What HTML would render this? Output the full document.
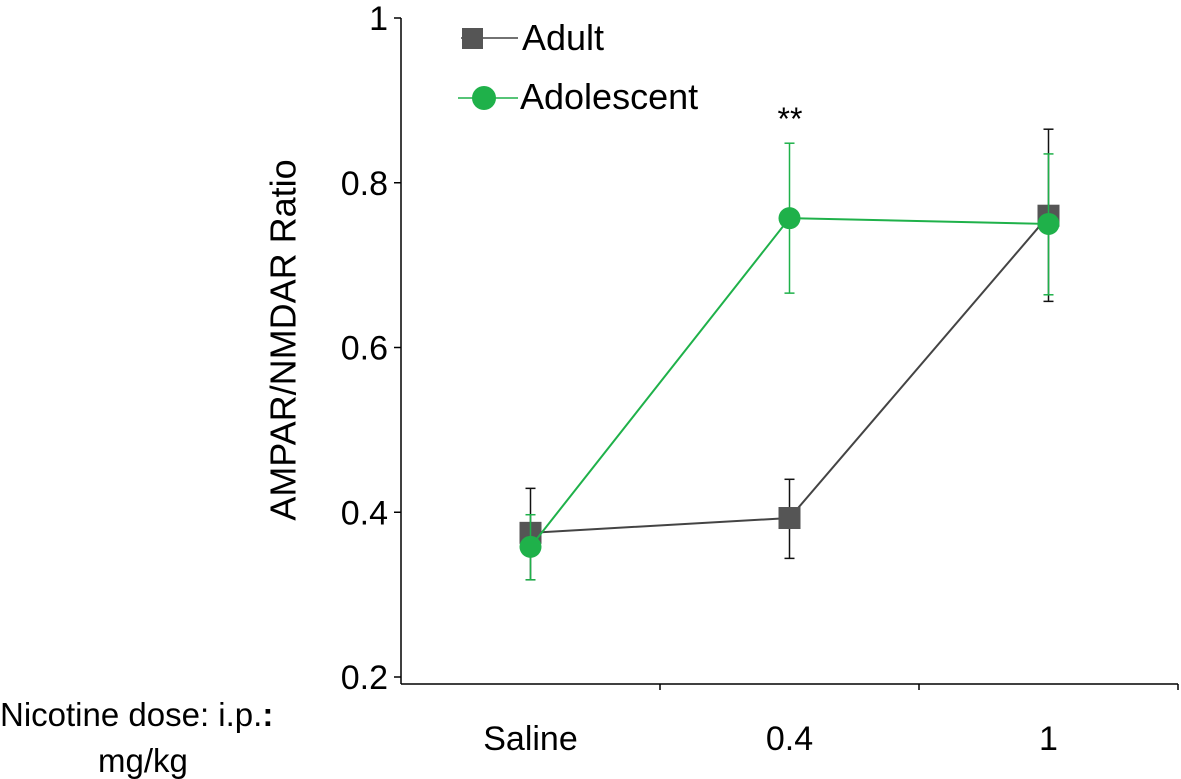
<!DOCTYPE html>
<html><head><meta charset="utf-8"><style>
body{margin:0;background:#fff;}
svg{display:block;font-family:"Liberation Sans",Arial,sans-serif;}
</style></head><body>
<svg id="chart" width="1181" height="779">
<text x="0" y="0" transform="translate(283,340) rotate(-90)" text-anchor="middle" font-size="36" dominant-baseline="central">AMPAR/NMDAR Ratio</text>
<text x="0" y="726" font-size="33">Nicotine dose: i.p.<tspan font-weight="bold">:</tspan></text>
<text x="98" y="772" font-size="33">mg/kg</text>
<g id="axes"></g>
<g id="marks"></g>
<g>
<line x1="461" y1="38" x2="518" y2="38" stroke="#444" stroke-width="1.5"/>
<rect x="462" y="28" width="21" height="21" fill="#555"/>
<text x="522" y="50" font-size="36">Adult</text>
<line x1="458" y1="98" x2="518" y2="98" stroke="#1fb14a" stroke-width="1.5"/>
<circle cx="484" cy="98" r="12" fill="#1fb14a"/>
<text x="520" y="109" font-size="36">Adolescent</text>
</g>
<text x="790" y="130" font-size="32" text-anchor="middle">**</text>
</svg>
<script>
const categories=["Saline","0.4","1"];
const adultVals=[0.375,0.393,0.760];
const adultHi=[0.429,0.440,0.865];
const adultLo=[0.318,0.344,0.656];
const adolVals=[0.358,0.757,0.750];
const adolHi=[0.397,0.848,0.835];
const adolLo=[0.318,0.666,0.664];
const yTicks=[0.2,0.4,0.6,0.8,1];
const yTickLabels=["0.2","0.4","0.6","0.8","1"];

const NS="http://www.w3.org/2000/svg";
const y0=677,yTop=18,xL=401,bw=259;
function ys(v){return y0-(v-0.2)/(1-0.2)*(y0-yTop);}
function xs(i){return xL+bw*(i+0.5);}
function mk(tag,attrs,parent){const e=document.createElementNS(NS,tag);for(const k in attrs)e.setAttribute(k,attrs[k]);parent.appendChild(e);return e;}
const axes=document.getElementById('axes'),marks=document.getElementById('marks');
let yl=mk('line',{x1:xL,y1:yTop,x2:xL,y2:684,stroke:'#000','stroke-width':1.5},axes);


let xl=mk('line',{x1:xL,y1:684,x2:xL+bw*3,y2:684,stroke:'#000','stroke-width':1.5},axes);


yTicks.forEach((v,i)=>{
  mk('line',{x1:xL-7,y1:ys(v),x2:xL,y2:ys(v),stroke:'#000','stroke-width':1.5},axes);
  const t=mk('text',{x:xL-13,y:ys(v)+12,'text-anchor':'end','font-size':34},axes);
  t.textContent=yTickLabels[i];
  
  
});
for(let i=1;i<=3;i++)mk('line',{x1:xL+bw*i,y1:684,x2:xL+bw*i,y2:690,stroke:'#000','stroke-width':1.5},axes);
categories.forEach((c,i)=>{
  const t=mk('text',{x:xs(i),y:750,'text-anchor':'middle','font-size':34},axes);
  t.textContent=c;
  
  
});
function series(vals,hi,lo,color,capColor,shape,name){
  const g=mk('g',{},marks);
  
  
  vals.forEach((v,i)=>{
    const x=xs(i);
    mk('line',{x1:x,y1:ys(hi[i]),x2:x,y2:ys(lo[i]),stroke:capColor,'stroke-width':1.5},g);
    mk('line',{x1:x-5,y1:ys(hi[i]),x2:x+5,y2:ys(hi[i]),stroke:capColor,'stroke-width':1.5},g);
    mk('line',{x1:x-5,y1:ys(lo[i]),x2:x+5,y2:ys(lo[i]),stroke:capColor,'stroke-width':1.5},g);
  });
  mk('polyline',{points:vals.map((v,i)=>xs(i)+','+ys(v)).join(' '),fill:'none',stroke:color,'stroke-width':2},g);
  vals.forEach((v,i)=>{
    let m;
    if(shape==='sq')m=mk('rect',{x:xs(i)-11,y:ys(v)-11,width:22,height:22,fill:'#555'},g);
    else m=mk('circle',{cx:xs(i),cy:ys(v),r:11,fill:'#1fb14a'},g);
    
    
  });
}
series(adultVals,adultHi,adultLo,'#444','#111','sq','adult');
series(adolVals,adolHi,adolLo,'#1fb14a','#1fb14a','ci','adolescent');
</script>
</body></html>
